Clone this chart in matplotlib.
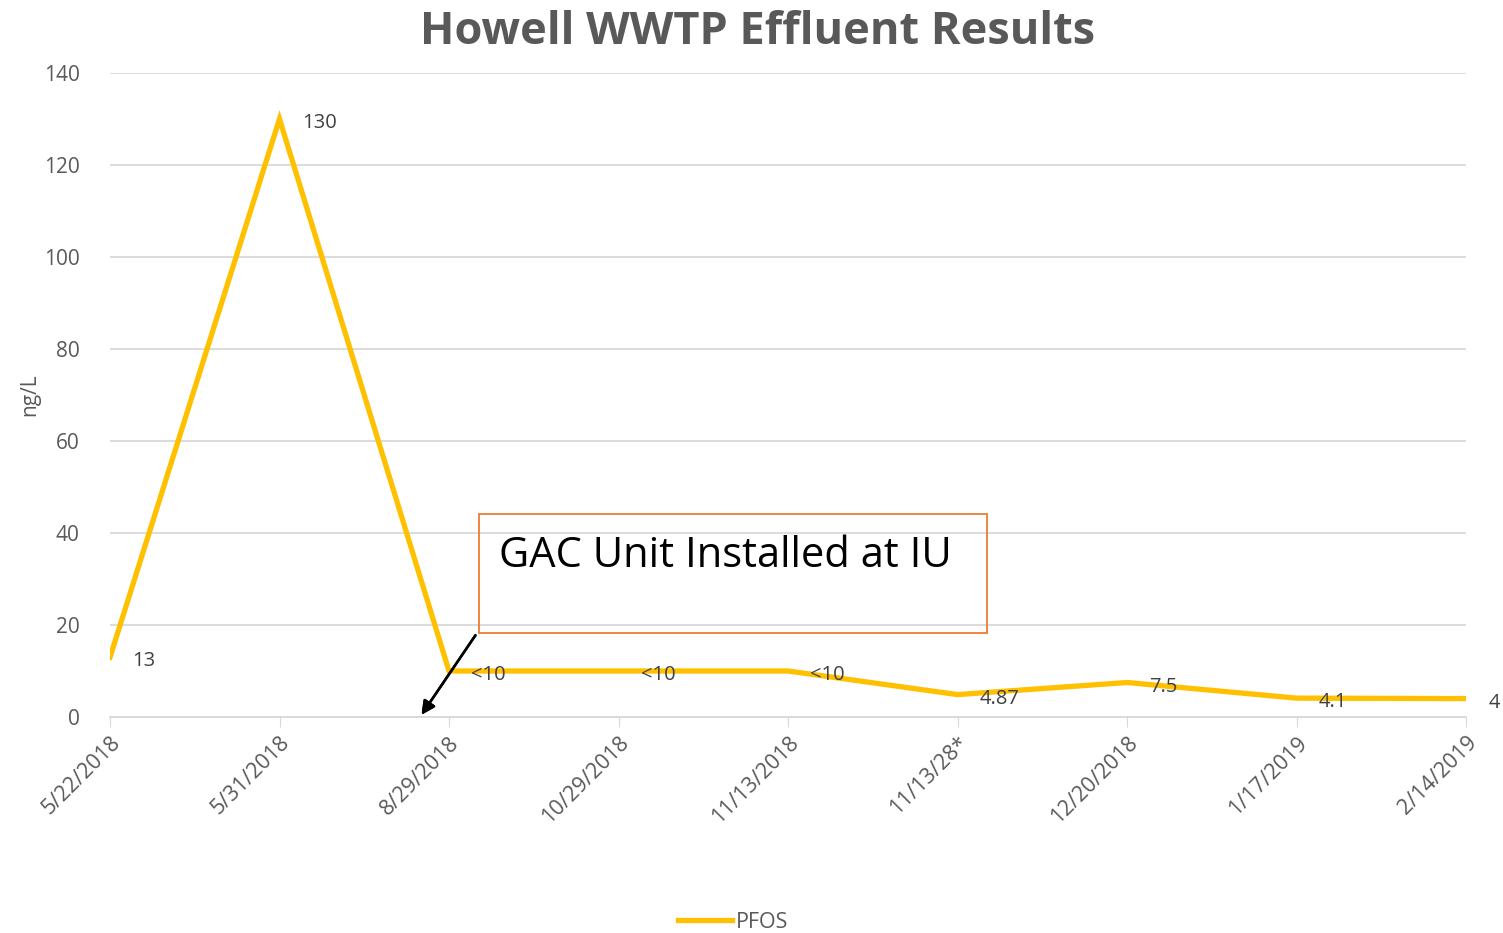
import matplotlib.pyplot as plt
from matplotlib.patches import Rectangle

plt.rcParams['font.family'] = ['Open Sans', 'DejaVu Sans']

dates = ["5/22/2018", "5/31/2018", "8/29/2018", "10/29/2018", "11/13/2018",
         "11/13/28*", "12/20/2018", "1/17/2019", "2/14/2019"]
pfos = [13, 130, 10, 10, 10, 4.87, 7.5, 4.1, 4]
point_labels = ["13", "130", "<10", "<10", "<10", "4.87", "7.5", "4.1", "4"]

gray = "#595959"
fig = plt.figure(figsize=(15.03, 9.33), dpi=100)
ax = fig.add_axes([110 / 1503, 1 - 717 / 933, (1466 - 110) / 1503, (717 - 73) / 933])

x = list(range(len(dates)))
line, = ax.plot(x, pfos, color="#FFC000", lw=3.8, label="PFOS", solid_joinstyle="miter")

for xi, yi, lab in zip(x, pfos, point_labels):
    ax.annotate(lab, (xi, yi), xytext=(16, -3), textcoords="offset points",
                ha="left", va="center", fontsize=14.5, color="#404040")

ax.set_xlim(0, len(dates) - 1)
ax.set_ylim(0, 140)
ax.set_yticks(range(0, 141, 20))
ax.set_xticks(x)
ax.set_xticklabels(dates, rotation=45, ha="right", rotation_mode="anchor")
ax.tick_params(axis="x", length=7, color="#d9d9d9", labelsize=15.5, labelcolor=gray, pad=4)
ax.tick_params(axis="y", length=0, labelsize=15, labelcolor=gray, pad=22)
ax.grid(axis="y", color="#d9d9d9", lw=1.3)
ax.set_axisbelow(True)
for s in ["top", "right", "left"]:
    ax.spines[s].set_visible(False)
ax.spines["bottom"].set_color("#d9d9d9")
ax.spines["bottom"].set_linewidth(1.3)
fig.text(30 / 1503, 1 - 395 / 933, "ng/L", rotation=90, ha="center", va="center",
         fontsize=15, color=gray)

fig.text(0.504, 1 - 33 / 933, "Howell WWTP Effluent Results", ha="center", va="center",
         fontsize=32.5, fontweight="bold", color=gray)

# annotation box
box = Rectangle((479 / 1503, 1 - 633 / 933), (987 - 479) / 1503, (633 - 514) / 933,
                transform=fig.transFigure, fill=False, edgecolor="#ED7D31", lw=1.3)
fig.patches.append(box)
fig.text(499 / 1503, 1 - 556 / 933, "GAC Unit Installed at IU", ha="left", va="center",
         fontsize=30, color="black")
fig.add_artist(plt.annotate("", xy=(420 / 1503, 1 - 717 / 933), xytext=(477 / 1503, 1 - 633 / 933),
                            xycoords="figure fraction", textcoords="figure fraction",
                            arrowprops=dict(arrowstyle="-|>", color="black", lw=1.8, mutation_scale=20)))

fig.legend(handles=[line], loc="center", bbox_to_anchor=(0.488, 1 - 922 / 933), frameon=False,
           fontsize=15.5, labelcolor=gray, handlelength=2.5, handletextpad=0.2)

fig.savefig("out.png", dpi=100)
